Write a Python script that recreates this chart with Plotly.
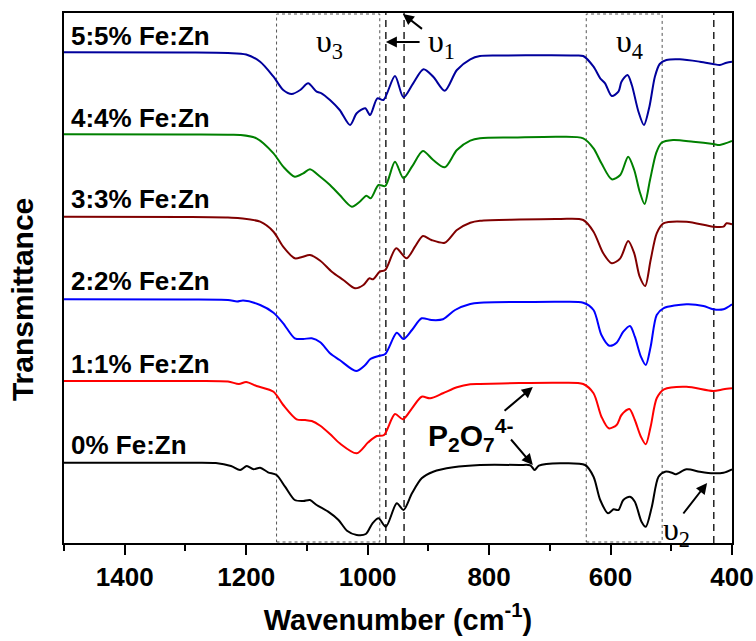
import plotly.graph_objects as go

# FTIR spectra of Fe-doped zinc pyrophosphate, stacked with vertical offsets.
# Wavenumbers in cm^-1, transmittance in arbitrary (offset) units.

wn_0 = [1500, 1300, 1250, 1225, 1210, 1199, 1188, 1177, 1164, 1150, 1136, 1120, 1106, 1095,
        1084, 1065, 1048, 1034, 1018, 1003, 992, 982, 970, 952, 941, 927, 911, 892, 859, 815,
        750, 732, 725, 718, 683, 642, 628, 617, 604, 595, 587, 579, 568, 560, 549, 542, 532,
        521, 510, 499, 493, 475, 453, 431, 414, 400]
t_0 = [80.3, 80.3, 80.0, 77.0, 73.0, 77.0, 73.7, 75.3, 70.7, 68.0, 56.3, 43.0, 42.0, 43.0,
       38.0, 31.3, 23.0, 12.3, 8.0, 9.0, 19.7, 24.7, 16.3, 39.7, 33.0, 49.7, 64.7, 71.3, 75.7, 78.0,
       78.0, 77.7, 73.0, 77.3, 79.7, 78.0, 66.3, 43.0, 29.7, 33.7, 33.0, 43.0, 46.3, 41.3, 21.3, 16.3, 36.3,
       66.3, 71.3, 70.3, 68.7, 73.7, 71.3, 69.7, 70.3, 73.7]

wn_1 = [1500, 1300, 1230, 1212, 1200, 1183, 1155, 1139, 1117, 1103, 1092, 1078, 1062, 1046,
        1018, 999, 985, 973, 955, 942, 927, 911, 897, 876, 853, 831, 815, 750, 683, 645, 628,
        615, 603, 590, 582, 569, 560, 550, 542, 534, 524, 512, 475, 431, 414, 400]
t_1 = [162.0, 162.0, 161.5, 159.0, 161.0, 157.0, 151.3, 138.0, 123.7, 123.0, 122.0, 117.3, 109.0, 99.7,
       89.7, 100.7, 107.0, 108.0, 129.0, 123.7, 134.7, 146.3, 144.7, 149.7, 155.7, 158.7, 159.0, 160.0, 160.3, 159.0, 149.7,
       126.3, 114.7, 118.0, 128.0, 134.0, 123.0, 106.3, 98.7, 116.3, 144.7, 153.7, 156.3, 152.0, 153.7, 154.7]

wn_2 = [1500, 1300, 1230, 1215, 1205, 1177, 1155, 1139, 1120, 1106, 1092, 1078, 1062, 1046,
        1019, 1004, 996, 982, 971, 952, 941, 927, 911, 895, 876, 856, 831, 815, 750, 683, 645,
        628, 615, 602, 590, 579, 568, 560, 550, 542, 534, 524, 513, 475, 447, 431, 414, 400]
t_2 = [243.7, 243.5, 243.0, 241.5, 242.5, 238.0, 230.3, 219.7, 204.7, 204.0, 204.7, 200.7, 189.7, 183.0,
       172.0, 178.0, 183.7, 187.0, 189.0, 210.3, 204.0, 213.0, 224.7, 223.0, 223.7, 233.0, 239.0, 240.3, 241.0, 241.3, 240.3,
       233.0, 208.0, 197.3, 200.3, 211.3, 217.0, 206.3, 186.3, 178.0, 196.3, 228.0, 234.7, 238.7, 237.0, 233.7, 233.7, 238.7]

wn_3 = [1500, 1300, 1230, 1210, 1177, 1155, 1139, 1120, 1108, 1095, 1078, 1059, 1040, 1021,
        1007, 997, 991, 980, 971, 953, 936, 922, 909, 895, 873, 853, 831, 815, 750, 683, 645,
        628, 612, 598, 584, 571, 561, 552, 543, 534, 524, 513, 475, 431, 414, 409, 400]
t_3 = [326.3, 326.0, 325.5, 324.7, 321.3, 311.3, 296.3, 284.7, 286.0, 288.0, 282.3, 271.3, 263.0, 254.7,
       258.0, 264.7, 263.7, 271.3, 273.0, 294.7, 284.7, 296.3, 307.0, 303.0, 300.3, 313.0, 320.3, 322.3, 323.5, 324.0, 323.0,
       311.3, 289.7, 279.7, 284.7, 302.0, 289.7, 266.3, 257.0, 283.0, 309.7, 319.7, 321.3, 316.3, 316.3, 319.7, 318.7]

wn_4 = [1500, 1300, 1230, 1210, 1183, 1155, 1139, 1120, 1106, 1095, 1078, 1062, 1046, 1026,
        1013, 1002, 995, 982, 971, 955, 941, 927, 909, 892, 873, 853, 831, 815, 760, 683, 645,
        628, 615, 598, 584, 571, 561, 552, 544, 535, 525, 516, 497, 464, 431, 420, 400]
t_4 = [408.7, 408.5, 408.2, 408.0, 404.7, 389.7, 376.3, 366.3, 369.7, 373.7, 366.3, 358.0, 348.0, 336.3,
       341.3, 347.3, 344.7, 358.0, 357.0, 381.3, 364.7, 376.3, 392.0, 383.0, 375.7, 393.0, 402.3, 404.7, 405.5, 406.3, 404.7,
       394.7, 379.7, 363.7, 368.0, 386.3, 373.0, 351.3, 339.0, 363.0, 389.7, 400.3, 403.0, 401.3, 399.0, 398.0, 402.0]

wn_5 = [1500, 1300, 1230, 1200, 1177, 1155, 1139, 1125, 1111, 1098, 1084, 1076, 1062, 1046,
        1029, 1018, 1004, 996, 984, 974, 955, 941, 925, 908, 892, 873, 853, 831, 815, 780, 700,
        660, 645, 628, 617, 609, 598, 587, 582, 572, 565, 554, 545, 536, 527, 519, 508, 486,
        453, 431, 420, 409, 400]
t_5 = [490.7, 490.5, 490.0, 488.5, 481.3, 466.3, 453.0, 449.0, 453.0, 459.7, 451.3, 449.7, 443.0, 433.0,
       418.0, 429.7, 434.7, 428.0, 444.7, 443.0, 467.0, 445.7, 459.7, 473.7, 466.3, 452.3, 473.0, 483.7, 487.0, 487.5, 487.7,
       487.5, 487.0, 476.3, 464.7, 459.7, 447.0, 451.3, 461.3, 468.0, 458.0, 431.3, 418.0, 436.3, 466.3, 479.0, 483.0, 483.7,
       481.3, 479.0, 478.0, 480.3, 481.3]

series_names = ["0% Fe:Zn", "1:1% Fe:Zn", "2:2% Fe:Zn", "3:3% Fe:Zn", "4:4% Fe:Zn", "5:5% Fe:Zn"]
series_wn = [wn_0, wn_1, wn_2, wn_3, wn_4, wn_5]
series_t = [t_0, t_1, t_2, t_3, t_4, t_5]
series_colors = ["#000000", "#ff0000", "#0000ff", "#800000", "#008000", "#00009c"]
# label anchor heights (transmittance units) for each spectrum's name
label_t = [98, 179.5, 262, 344, 425.5, 507]

# vibrational-band windows (dotted boxes) and marker lines (dashed)
band_boxes = [(1150, 980), (640, 515)]
marker_lines = [970, 940, 430]

X_RANGE = [1500, 400]
Y_RANGE = [0, 530]

BOLD = dict(family="Liberation Sans, Arial, sans-serif", color="black", weight="bold")
GREEK = dict(family="Liberation Serif, Times New Roman, serif", color="black")

fig = go.Figure()

for name, wn, t, col in zip(series_names, series_wn, series_t, series_colors):
    fig.add_trace(go.Scatter(
        x=wn, y=t, mode="lines", name=name,
        line=dict(color=col, width=2, shape="spline", smoothing=0.8),
        showlegend=False, hoverinfo="skip"))

for x0, x1 in band_boxes:
    fig.add_shape(type="rect", xref="x", yref="y", x0=x0, x1=x1, y0=Y_RANGE[0] + 1, y1=Y_RANGE[1] - 1,
                  line=dict(color="#555555", width=1, dash="dot"), layer="below")

for xv in marker_lines:
    fig.add_shape(type="line", xref="x", yref="y", x0=xv, x1=xv, y0=Y_RANGE[0], y1=Y_RANGE[1],
                  line=dict(color="#222222", width=1.5, dash="7px,5px"), layer="below")

# spectrum names
for name, ty in zip(series_names, label_t):
    fig.add_annotation(x=1492, y=ty, xref="x", yref="y", text=name, showarrow=False,
                       xanchor="left", yanchor="middle", font=dict(size=26, **BOLD))

# band labels
for txt, bx in [("υ<sub>3</sub>", 1062), ("υ<sub>1</sub>", 878), ("υ<sub>4</sub>", 568)]:
    fig.add_annotation(x=bx, y=500, xref="x", yref="y", text=txt, showarrow=False,
                       xanchor="center", yanchor="middle", font=dict(size=32, **GREEK))
fig.add_annotation(x=491, y=12, xref="x", yref="y", text="υ<sub>2</sub>", showarrow=False,
                   xanchor="center", yanchor="middle", font=dict(size=32, **GREEK))
fig.add_annotation(x=831, y=108, xref="x", yref="y",
                   text="P<sub>2</sub>O<sub>7</sub><sup>4-</sup>", showarrow=False,
                   xanchor="center", yanchor="middle", font=dict(size=30, **BOLD))

# arrows: (head x, head y, tail x, tail y)
arrows = [(970, 501, 912, 501), (942, 529, 908, 513),
          (728, 156, 777, 131), (728, 78, 766, 105),
          (441, 60, 482, 28)]
for hx, hy, tx, ty in arrows:
    fig.add_annotation(x=hx, y=hy, ax=tx, ay=ty, xref="x", yref="y", axref="x", ayref="y",
                       text="", showarrow=True, arrowhead=2, arrowsize=1.1, arrowwidth=2,
                       arrowcolor="black")

# y-axis title
fig.add_annotation(x=-0.063, y=0.46, xref="paper", yref="paper", text="Transmittance",
                   showarrow=False, textangle=-90, xanchor="center", yanchor="middle",
                   font=dict(size=30, **BOLD))

fig.update_layout(
    width=756, height=641,
    margin=dict(l=64, r=24, t=13, b=98, autoexpand=False),
    plot_bgcolor="white", paper_bgcolor="white",
    xaxis=dict(range=X_RANGE, tickmode="linear", tick0=400, dtick=200, automargin=False,
               ticks="outside", ticklen=10, tickwidth=2, tickcolor="black",
               minor=dict(ticks="outside", ticklen=6, tickwidth=2, tickcolor="black", dtick=100, tick0=400),
               showline=True, linewidth=2, linecolor="black", mirror=True,
               showgrid=False, zeroline=False,
               tickfont=dict(size=26, **BOLD),
               title=dict(text="Wavenumber (cm<sup>-1</sup>)", font=dict(size=29, **BOLD), standoff=18)),
    xaxis2=dict(range=X_RANGE, overlaying="x", side="top", tickmode="linear", tick0=400, dtick=100,
                ticks="inside", ticklen=4, tickwidth=1, tickcolor="black", automargin=False,
                showticklabels=False, showgrid=False, zeroline=False, showline=False),
    yaxis=dict(range=Y_RANGE, showticklabels=False, ticks="", showgrid=False, zeroline=False,
               automargin=False, showline=True, linewidth=2, linecolor="black", mirror=True),
)

fig.write_html("out.html")
